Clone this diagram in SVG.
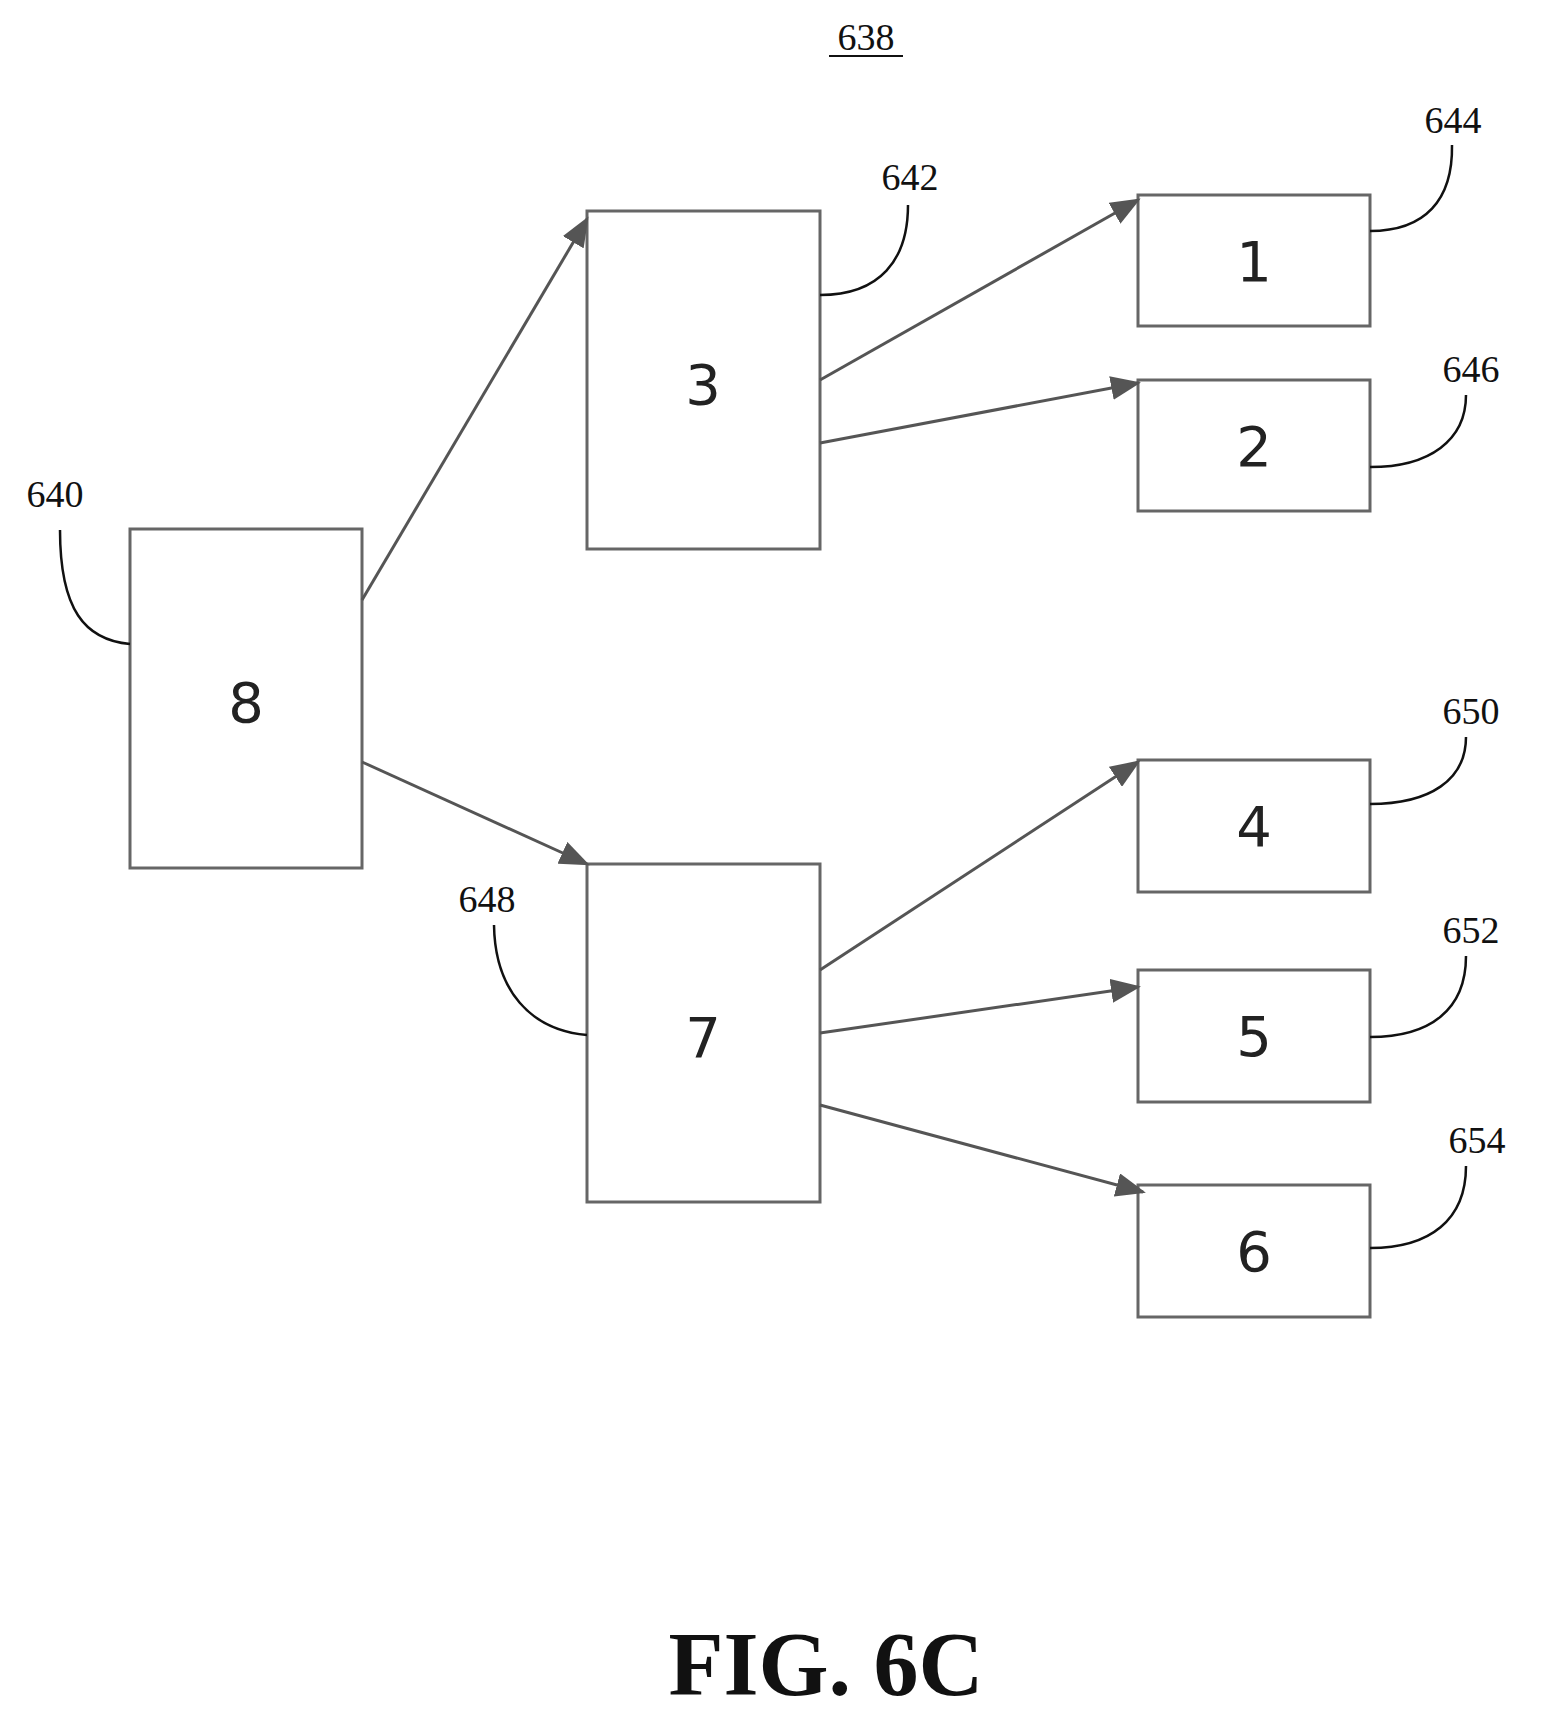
<svg xmlns="http://www.w3.org/2000/svg" width="1542" height="1726" viewBox="0 0 1542 1726">
<style>
.box{fill:#fff;stroke:#666;stroke-width:3}
.num{font-family:"DejaVu Sans",sans-serif;font-size:56px;fill:#222;text-anchor:middle}
.ref{font-family:"Liberation Serif",serif;font-size:38px;fill:#111;text-anchor:middle}
.lead{fill:none;stroke:#111;stroke-width:2.5}
.con{stroke:#555;stroke-width:3;marker-end:url(#ah)}
</style>
<defs><marker id="ah" markerWidth="10" markerHeight="8" refX="9" refY="4" orient="auto" markerUnits="strokeWidth"><path d="M0,0 L10,4 L0,8 Z" fill="#555"/></marker></defs>
<rect width="1542" height="1726" fill="#fff"/>
<text class="ref" x="866" y="50">638</text>
<line x1="829" y1="56" x2="903" y2="56" stroke="#111" stroke-width="2"/>
<g id="n8"><rect class="box" x="130" y="529" width="232" height="339"/><text class="num" x="246" y="722">8</text>
<text class="ref" x="55" y="507">640</text><path class="lead" d="M130,644 C85,640 60,610 60,530"/></g>
<g id="n3"><rect class="box" x="587" y="211" width="233" height="338"/><text class="num" x="703" y="404">3</text>
<text class="ref" x="910" y="190">642</text><path class="lead" d="M820,295 C880,295 908,260 908,205"/></g>
<g id="n7"><rect class="box" x="587" y="864" width="233" height="338"/><text class="num" x="703" y="1057">7</text>
<text class="ref" x="487" y="912">648</text><path class="lead" d="M587,1035 C530,1030 495,990 494,925"/></g>
<g id="n1"><rect class="box" x="1138" y="195" width="232" height="131"/><text class="num" x="1254" y="281">1</text>
<text class="ref" x="1453" y="133">644</text><path class="lead" d="M1370,231 C1425,231 1453,200 1452,145"/></g>
<g id="n2"><rect class="box" x="1138" y="380" width="232" height="131"/><text class="num" x="1254" y="466">2</text>
<text class="ref" x="1471" y="382">646</text><path class="lead" d="M1370,467 C1430,467 1466,440 1466,395"/></g>
<g id="n4"><rect class="box" x="1138" y="760" width="232" height="132"/><text class="num" x="1254" y="846">4</text>
<text class="ref" x="1471" y="724">650</text><path class="lead" d="M1370,804 C1430,804 1466,780 1466,737"/></g>
<g id="n5"><rect class="box" x="1138" y="970" width="232" height="132"/><text class="num" x="1254" y="1056">5</text>
<text class="ref" x="1471" y="943">652</text><path class="lead" d="M1370,1037 C1430,1037 1466,1010 1466,956"/></g>
<g id="n6"><rect class="box" x="1138" y="1185" width="232" height="132"/><text class="num" x="1254" y="1271">6</text>
<text class="ref" x="1477" y="1153">654</text><path class="lead" d="M1370,1248 C1430,1248 1466,1220 1466,1166"/></g>
<g id="connectors">
<line class="con" x1="362" y1="600" x2="587" y2="219"/>
<line class="con" x1="820" y1="380" x2="1138" y2="200"/>
<line class="con" x1="820" y1="443" x2="1138" y2="383"/>
<line class="con" x1="362" y1="762" x2="587" y2="864"/>
<line class="con" x1="820" y1="970" x2="1138" y2="762"/>
<line class="con" x1="820" y1="1033" x2="1138" y2="987"/>
<line class="con" x1="820" y1="1105" x2="1143" y2="1192"/>
</g>
<text x="826" y="1695" font-family="Liberation Serif,serif" font-weight="bold" font-size="90" text-anchor="middle" fill="#111">FIG. 6C</text>
</svg>
